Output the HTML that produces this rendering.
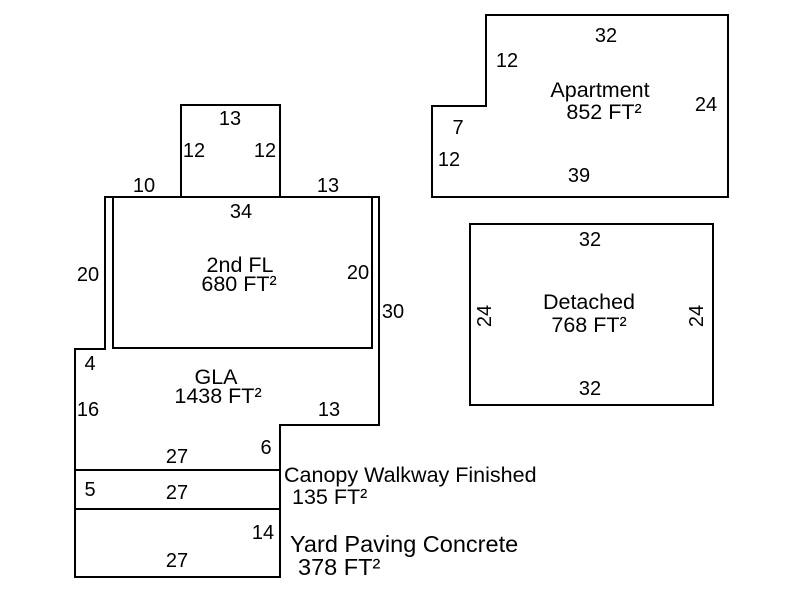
<!DOCTYPE html>
<html><head><style>body{margin:0;background:#fff}svg{display:block}text{font-family:"Liberation Sans",sans-serif;font-size:20px;fill:#000}.l{font-size:21.5px}.y{font-size:23.5px}</style></head>
<body><svg width="800" height="600" xmlns="http://www.w3.org/2000/svg">
<g fill="none" stroke="#000" stroke-width="2">
<polygon points="486,15 728,15 728,197 432,197 432,106 486,106"/>
<rect x="470" y="224" width="243" height="181"/>
<polyline points="181,197 181,105 280,105 280,197"/>
<polygon points="105,197 379,197 379,425 280,425 280,577 75,577 75,349 105,349"/>
<rect x="113" y="197" width="259" height="151"/>
<line x1="75" y1="470" x2="280" y2="470"/>
<line x1="75" y1="509" x2="280" y2="509"/>
</g>
<g text-anchor="middle">
<text x="606" y="42">32</text>
<text x="507" y="67">12</text>
<text class="l" x="600" y="97">Apartment</text>
<text class="l" x="604" y="119">852 FT²</text>
<text x="706" y="111">24</text>
<text x="458" y="134">7</text>
<text x="449" y="166">12</text>
<text x="579" y="182">39</text>
<text x="590" y="246">32</text>
<text class="l" x="589" y="309">Detached</text>
<text class="l" x="589" y="332">768 FT²</text>
<text x="590" y="395">32</text>
<text transform="translate(491,316) rotate(-90)">24</text>
<text transform="translate(703,316) rotate(-90)">24</text>
<text x="230" y="125">13</text>
<text x="194" y="157">12</text>
<text x="265" y="157">12</text>
<text x="144" y="192">10</text>
<text x="328" y="192">13</text>
<text x="241" y="218">34</text>
<text x="88" y="281">20</text>
<text x="358" y="279">20</text>
<text class="l" x="240" y="272">2nd FL</text>
<text class="l" x="239" y="291">680 FT²</text>
<text x="393" y="318">30</text>
<text x="90" y="370">4</text>
<text class="l" x="216" y="384">GLA</text>
<text class="l" x="218" y="403">1438 FT²</text>
<text x="88" y="416">16</text>
<text x="329" y="416">13</text>
<text x="266" y="454">6</text>
<text x="177" y="463">27</text>
<text x="90" y="496">5</text>
<text x="177" y="499">27</text>
<text x="263" y="539">14</text>
<text x="177" y="567">27</text>
</g>
<text class="l" x="284" y="482">Canopy Walkway Finished</text>
<text class="l" x="292" y="504">135 FT²</text>
<text class="y" x="290" y="552">Yard Paving Concrete</text>
<text class="y" x="298" y="575">378 FT²</text>
</svg></body></html>
